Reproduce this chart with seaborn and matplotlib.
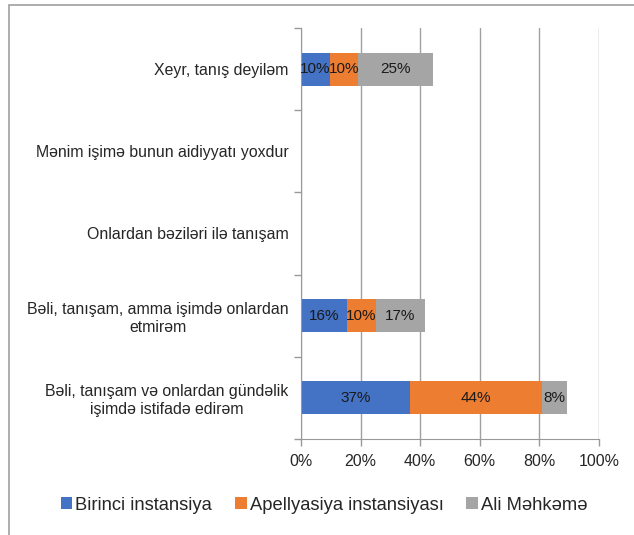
import seaborn as sns
import pandas as pd
import matplotlib.pyplot as plt
import numpy as np
from matplotlib.patches import Rectangle

# kateqoriyalar (yuxarıdan aşağı)
categories = [
    "Xeyr, tanış deyiləm",
    "Mənim işimə bunun aidiyyatı yoxdur",
    "Onlardan bəziləri ilə tanışam",
    "Bəli, tanışam, amma işimdə onlardan\netmirəm",
    "Bəli, tanışam və onlardan gündəlik\nişimdə istifadə edirəm",
]
series = ["Birinci instansiya", "Apellyasiya instansiyası", "Ali Məhkəmə"]
birinci = [9.6, 0, 0, 15.5, 36.6]
apellyasiya = [9.6, 0, 0, 9.5, 44.2]
ali = [25.1, 0, 0, 16.6, 8.4]
colors = ["#4472C4", "#ED7D31", "#A5A5A5"]

sns.set_style("white")
plt.rcParams["font.family"] = ["Liberation Sans", "DejaVu Sans"]

df = pd.DataFrame({"cat": categories, "b": birinci, "a": apellyasiya, "m": ali})
df["c1"] = df["b"]
df["c2"] = df["b"] + df["a"]
df["c3"] = df["c2"] + df["m"]

fig = plt.figure(figsize=(6.34, 5.35), dpi=100)
ax = fig.add_axes([301 / 634, 1 - 439 / 535, 298 / 634, 411 / 535])

# üst-üstə çəkmə: əvvəl cəm, sonra kiçik hissələr
for col, c, name in [("c3", colors[2], series[2]), ("c2", colors[1], series[1]), ("c1", colors[0], series[0])]:
    sns.barplot(data=df, x=col, y="cat", color=c, orient="h", width=0.4, saturation=1,
                ax=ax, zorder=3, linewidth=0, label=name)

# etiketlər
for i in range(len(categories)):
    left = 0
    for v in [birinci[i], apellyasiya[i], ali[i]]:
        if v > 0:
            ax.text(left + v / 2, i, f"{round(v):.0f}%", ha="center", va="center",
                    fontsize=11, color="#1a1a1a", zorder=5)
        left += v

ax.set_xlim(0, 100)
ax.set_ylim(4.5, -0.5)
ax.set_xticks(np.arange(0, 101, 20))
ax.set_xticklabels([f"{t}%" for t in range(0, 101, 20)], fontsize=11.5)
ax.set_yticks(range(len(categories)))
ax.set_yticklabels(categories, fontsize=11.4, ha="right", multialignment="center")
ax.tick_params(axis="y", which="major", left=False, length=0, pad=9)
ax.set_yticks(np.arange(-0.5, 5, 1), minor=True)
ax.tick_params(axis="y", which="minor", left=True, length=5, color="#999999", width=1)
ax.tick_params(axis="x", bottom=True, length=5, color="#999999", width=1, direction="out", pad=6)
ax.set_xlabel("")
ax.set_ylabel("")

ax.grid(axis="x", color="#a0a0a0", linewidth=1, zorder=0)
ax.set_axisbelow(True)
for s in ["top", "right"]:
    ax.spines[s].set_visible(False)
ax.spines["left"].set_color("#999999")
ax.spines["left"].set_zorder(4)
ax.spines["bottom"].set_color("#999999")

handles, labels = ax.get_legend_handles_labels()
order = [labels.index(n) for n in series]
fig.legend([handles[k] for k in order], series, loc="center", bbox_to_anchor=(324 / 634, 1 - 505 / 535),
           ncol=3, frameon=False, fontsize=13.2, handlelength=0.65, handleheight=0.65,
           handletextpad=0.15, columnspacing=1.25)
if ax.get_legend() is not None:
    ax.get_legend().remove()

# çərçivə
fig.patches.append(Rectangle((9 / 634, -0.1), 1.2, 1 - 5 / 535 + 0.1, transform=fig.transFigure,
                             fill=False, edgecolor="#a0a0a0", linewidth=1.2))

fig.savefig("out.png", dpi=100)
